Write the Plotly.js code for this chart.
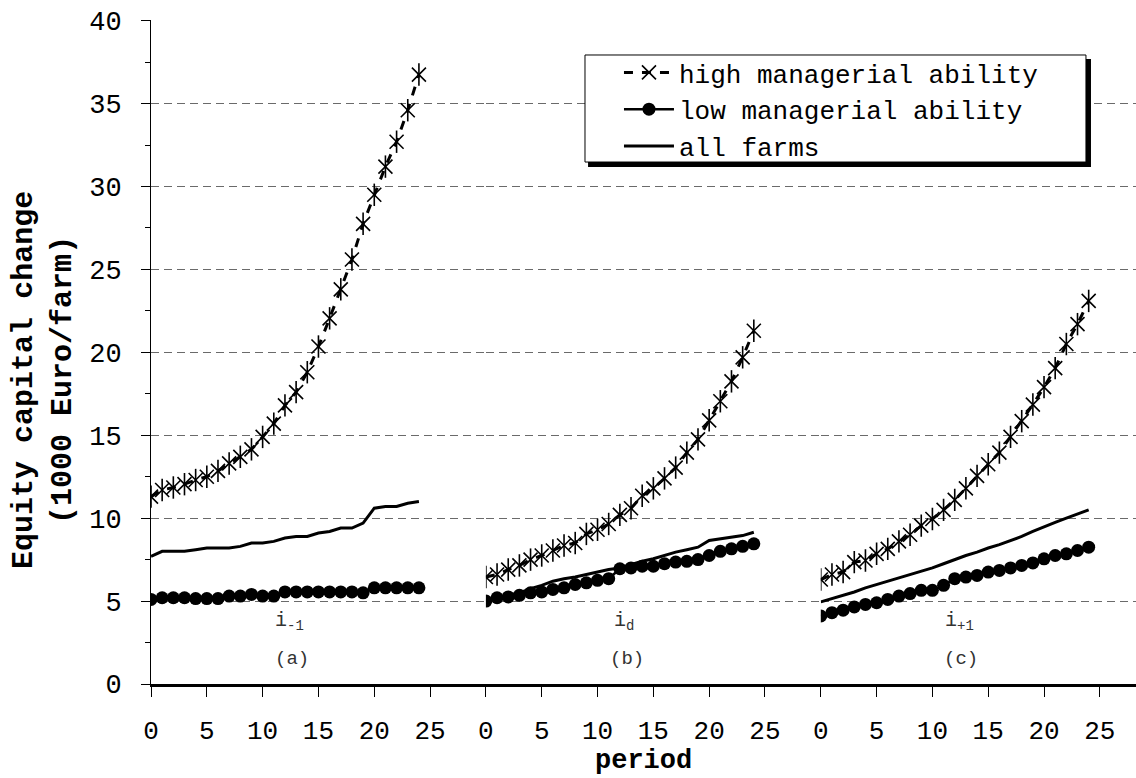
<!DOCTYPE html>
<html>
<head>
<meta charset="utf-8">
<script src="https://cdn.plot.ly/plotly-3.0.1.min.js"></script>
<style>html,body{margin:0;padding:0;background:#fff;}#chart{width:1136px;height:778px;}</style>
</head>
<body>
<div id="chart"></div>
<script>
// ---- data ----
const period = [0,1,2,3,4,5,6,7,8,9,10,11,12,13,14,15,16,17,18,19,20,21,22,23,24];
const tickValues = [0,5,10,15,20,25];
const seriesNames = ['high managerial ability','low managerial ability','all farms'];
const panelLabels = ['(a)','(b)','(c)'];
const rateLabels = ['i<sub>-1</sub>','i<sub>d</sub>','i<sub>+1</sub>'];

// panel (a)
const highA = [11.3,11.7,11.85,12.05,12.3,12.5,12.85,13.3,13.7,14.15,14.9,15.7,16.8,17.6,18.8,20.35,22.05,23.8,25.6,27.75,29.5,31.2,32.7,34.6,36.75];
const lowA  = [5.1,5.2,5.2,5.2,5.15,5.15,5.15,5.3,5.3,5.4,5.3,5.3,5.55,5.55,5.55,5.55,5.55,5.55,5.55,5.5,5.8,5.8,5.8,5.8,5.8];
const allA  = [7.7,8.0,8.0,8.0,8.1,8.2,8.2,8.2,8.3,8.5,8.5,8.6,8.8,8.9,8.9,9.1,9.2,9.4,9.4,9.7,10.6,10.7,10.7,10.9,11.0];
// panel (b)
const highB = [6.45,6.6,6.9,7.15,7.5,7.75,8.05,8.35,8.5,9.05,9.3,9.65,10.2,10.6,11.35,11.8,12.4,13.05,13.95,14.75,15.9,17.05,18.25,19.7,21.3];
const lowB  = [5.0,5.2,5.25,5.35,5.5,5.55,5.7,5.8,6.0,6.1,6.25,6.35,6.95,7.0,7.1,7.1,7.25,7.35,7.4,7.5,7.75,8.0,8.15,8.3,8.45];
const allB  = [5.05,5.15,5.3,5.5,5.75,5.95,6.2,6.35,6.45,6.6,6.75,6.9,7.0,7.2,7.4,7.55,7.75,7.95,8.1,8.25,8.65,8.75,8.85,8.95,9.15];
// panel (c)
const highC = [6.3,6.6,6.75,7.35,7.45,7.85,8.15,8.6,9.0,9.55,9.95,10.5,11.1,11.8,12.55,13.25,13.95,14.9,15.85,16.85,17.9,19.05,20.5,21.7,23.1];
const lowC  = [4.1,4.3,4.45,4.65,4.8,4.9,5.1,5.3,5.45,5.65,5.65,5.95,6.35,6.45,6.55,6.75,6.85,7.0,7.15,7.3,7.55,7.75,7.85,8.05,8.25];
const allC  = [4.95,5.15,5.35,5.55,5.8,6.0,6.2,6.4,6.6,6.8,7.0,7.25,7.5,7.75,7.95,8.2,8.4,8.65,8.9,9.2,9.5,9.75,10.0,10.25,10.5];

const panels = [
  {xa:'x',  high:highA, low:lowA, all:allA},
  {xa:'x2', high:highB, low:lowB, all:allB},
  {xa:'x3', high:highC, low:lowC, all:allC}
];

const FONT = 'Liberation Mono, Courier New, monospace';
const traces = [];
panels.forEach((p, i) => {
  const first = i === 0;
  traces.push({
    x: period, y: p.high, xaxis: p.xa, yaxis: 'y', name: seriesNames[0], legendgroup: 'high',
    showlegend: first, mode: 'lines+markers', type: 'scatter',
    line: {color: '#000', width: 3, dash: 'dash'},
    marker: {symbol: 'x-thin-open', size: 14, color: '#000', line: {color: '#000', width: 1.6}},
    hoverinfo: 'x+y'
  });
  traces.push({
    x: period, y: p.high, xaxis: p.xa, yaxis: 'y', name: seriesNames[0], legendgroup: 'high',
    showlegend: false, mode: 'markers', type: 'scatter',
    marker: {symbol: 'line-ns-open', size: 16, color: '#000', line: {color: '#000', width: 1.6}},
    hoverinfo: 'skip'
  });
  traces.push({
    x: period, y: p.low, xaxis: p.xa, yaxis: 'y', name: seriesNames[1], legendgroup: 'low',
    showlegend: first, mode: 'lines+markers', type: 'scatter',
    line: {color: '#000', width: 2.5},
    marker: {symbol: 'circle', size: 13, color: '#000'},
    hoverinfo: 'x+y'
  });
  traces.push({
    x: period, y: p.all, xaxis: p.xa, yaxis: 'y', name: seriesNames[2], legendgroup: 'all',
    showlegend: first, mode: 'lines', type: 'scatter',
    line: {color: '#000', width: 3},
    hoverinfo: 'x+y'
  });
});

function xAxis(domain, range) {
  return {
    domain: domain, range: range, anchor: 'y',
    tickmode: 'array', tickvals: tickValues, ticktext: tickValues.map(String),
    ticks: 'outside', ticklen: 10, tickwidth: 1, tickcolor: '#000',
    showline: true, linecolor: '#000', linewidth: 3,
    showgrid: false, zeroline: false,
    tickfont: {family: FONT, size: 26, color: '#000'},
    ticklabelstandoff: 11
  };
}

const annotations = [];
panels.forEach((p, i) => {
  annotations.push({x: 12.4, y: 3.75, xref: p.xa, yref: 'y', text: rateLabels[i], showarrow: false,
    font: {family: FONT, size: 20, color: '#333'}});
  annotations.push({x: 12.6, y: 1.5, xref: p.xa, yref: 'y', text: panelLabels[i], showarrow: false,
    font: {family: FONT, size: 19, color: '#333'}});
});
annotations.push({x: -0.1086, y: 0.458, xref: 'paper', yref: 'paper', textangle: -90,
  text: '<b>Equity capital change<br>(1000 Euro/farm)</b>', showarrow: false,
  xanchor: 'center', yanchor: 'middle',
  font: {family: FONT, size: 30, color: '#000'}});
annotations.push({x: 0.5, y: -0.1165, xref: 'paper', yref: 'paper', text: '<b>period</b>', showarrow: false,
  xanchor: 'center', yanchor: 'middle', font: {family: FONT, size: 27, color: '#000'}});

const layout = {
  width: 1136, height: 778,
  margin: {l: 151, r: 0, t: 20, b: 94},
  paper_bgcolor: '#fff', plot_bgcolor: '#fff',
  font: {family: FONT, color: '#000'},
  showlegend: true,
  legend: {
    x: 0.4751, y: 0.9563, xanchor: 'left', yanchor: 'top',
    bgcolor: 'rgba(0,0,0,0)', borderwidth: 0,
    font: {family: FONT, size: 26, color: '#000'},
    itemwidth: 50, tracegroupgap: 0
  },
  xaxis: xAxis([0, 0.34], [0, 30]),
  xaxis2: xAxis([0.34, 0.68], [0, 30]),
  xaxis3: xAxis([0.68, 1], [0, 28.24]),
  yaxis: {
    range: [0, 40.04], tick0: 0, dtick: 5,
    ticks: 'outside', ticklen: 9, tickcolor: '#000', tickwidth: 1,
    showline: true, linecolor: '#000', linewidth: 1,
    showgrid: true, gridcolor: '#6a6a6a', gridwidth: 1, griddash: '8px,5px',
    zeroline: false,
    tickfont: {family: FONT, size: 27, color: '#000'},
    ticklabelstandoff: 14,
    minor: {dtick: 2.5, ticks: 'outside', ticklen: 5, tickcolor: '#000', showgrid: false}
  },
  shapes: [
    {type: 'rect', xref: 'paper', yref: 'paper', x0: 0.4437, x1: 0.9543, y0: 0.7786, y1: 0.9413,
      fillcolor: '#000', line: {width: 0}, layer: 'above'},
    {type: 'rect', xref: 'paper', yref: 'paper', x0: 0.4406, x1: 0.9492, y0: 0.7861, y1: 0.9473,
      fillcolor: '#fff', line: {color: '#000', width: 1}, layer: 'above'}
  ],
  annotations: annotations
};

Plotly.newPlot('chart', traces, layout, {displayModeBar: false, staticPlot: true});
</script>
</body>
</html>
